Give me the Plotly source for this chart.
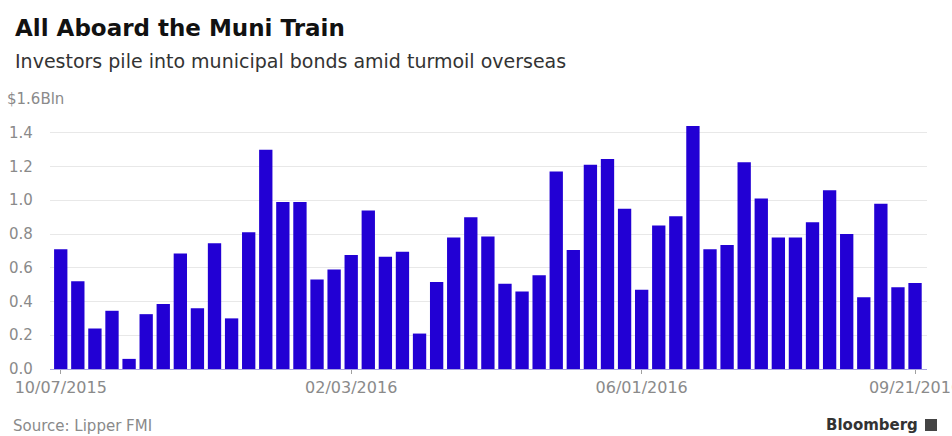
import pandas as pd
import plotly.graph_objects as go

# ---- data ----
start_date = "2015-10-07"
n_weeks = 51
weeks = pd.date_range(start_date, periods=n_weeks, freq="7D")
flows = [0.71, 0.52, 0.24, 0.345, 0.06, 0.325, 0.385, 0.685, 0.36, 0.745,
         0.30, 0.81, 1.30, 0.99, 0.99, 0.53, 0.59, 0.675, 0.94, 0.665,
         0.695, 0.21, 0.515, 0.78, 0.90, 0.785, 0.505, 0.46, 0.555, 1.17,
         0.705, 1.21, 1.245, 0.95, 0.47, 0.85, 0.905, 1.44, 0.71, 0.735,
         1.225, 1.01, 0.78, 0.78, 0.87, 1.06, 0.80, 0.425, 0.98, 0.485, 0.51]
x_tick_dates = ["2015-10-07", "2016-02-03", "2016-06-01", "2016-09-21"]
x_tick_text = ["10/07/2015", "02/03/2016", "06/01/2016", "09/21/2016"]
y_tick_vals = [0.0, 0.2, 0.4, 0.6, 0.8, 1.0, 1.2, 1.4, 1.6]
y_tick_text = ["0.0", "0.2", "0.4", "0.6", "0.8", "1.0", "1.2", "1.4", "$1.6Bln"]

title = "All Aboard the Muni Train"
subtitle = "Investors pile into municipal bonds amid turmoil overseas"
source = "Source: Lipper FMI"
brand = "Bloomberg"

# ---- layout constants ----
W, H = 952, 436
ML, MR, MT, MB = 50, 25, 99, 67
PH = H - MT - MB
FONT = "DejaVu Sans"
BAR = "#2200d4"


def py(px):
    """pixel y (from top) -> paper fraction"""
    return (H - MB - px) / PH


x0 = weeks[0] - pd.Timedelta(days=4.4)
x1 = weeks[-1] + pd.Timedelta(days=4.9)

fig = go.Figure(go.Bar(x=weeks, y=flows, marker=dict(color=BAR, line=dict(width=0))))

fig.update_layout(
    width=W, height=H,
    margin=dict(l=ML, r=MR, t=MT, b=MB, pad=0, autoexpand=False),
    paper_bgcolor="white", plot_bgcolor="white",
    bargap=0.22, showlegend=False,
    font=dict(family=FONT),
    xaxis=dict(type="date", range=[x0, x1], tickmode="array",
               tickvals=x_tick_dates, ticktext=x_tick_text,
               ticklabeloverflow="allow", automargin=False,
               showgrid=False, zeroline=False, showline=True,
               linecolor="#a9a4e0", linewidth=1,
               ticks="outside", ticklen=4, tickcolor="#a0a0a0",
               tickfont=dict(family=FONT, size=16, color="#8a8a8a")),
    yaxis=dict(range=[0, 1.6], tickmode="array", tickvals=y_tick_vals,
               showticklabels=False, showgrid=True, gridcolor="#e8e8e8",
               gridwidth=1, zeroline=False, showline=False, ticks="",
               automargin=False),
)

ann = []
for v, t in zip(y_tick_vals, y_tick_text):
    ann.append(dict(x=0, xref="paper", y=v, yref="y", text=t, showarrow=False,
                    xanchor="left", yanchor="middle",
                    xshift=-(ML - (6 if t.startswith("$") else 8)),
                    bgcolor="white", borderpad=0,
                    font=dict(family=FONT, size=15, color="#8a8a8a")))

ann.append(dict(x=0, xref="paper", xshift=-(ML - 13), y=py(28), yref="paper",
                text="<b>%s</b>" % title, showarrow=False, xanchor="left",
                yanchor="middle", font=dict(family=FONT, size=23, color="#111111")))
ann.append(dict(x=0, xref="paper", xshift=-(ML - 13), y=py(61), yref="paper",
                text=subtitle, showarrow=False, xanchor="left",
                yanchor="middle", font=dict(family=FONT, size=19, color="#333333")))
ann.append(dict(x=0, xref="paper", xshift=-(ML - 11), y=py(426), yref="paper",
                text=source, showarrow=False, xanchor="left",
                yanchor="middle", font=dict(family=FONT, size=15, color="#8a8a8a")))
ann.append(dict(x=1, xref="paper", xshift=(920 - (W - MR)), y=py(425), yref="paper",
                text="<b>%s</b>" % brand, showarrow=False, xanchor="right",
                yanchor="middle", font=dict(family=FONT, size=15, color="#333333")))
fig.update_layout(annotations=ann)

# small logo square next to brand name
fig.add_shape(type="rect", xref="paper", yref="paper",
              x0=1 + (925 - (W - MR)) / (W - ML - MR), x1=1 + (937 - (W - MR)) / (W - ML - MR),
              y0=py(431), y1=py(419), fillcolor="#444444", line=dict(width=0))

fig.write_html("out.html")
